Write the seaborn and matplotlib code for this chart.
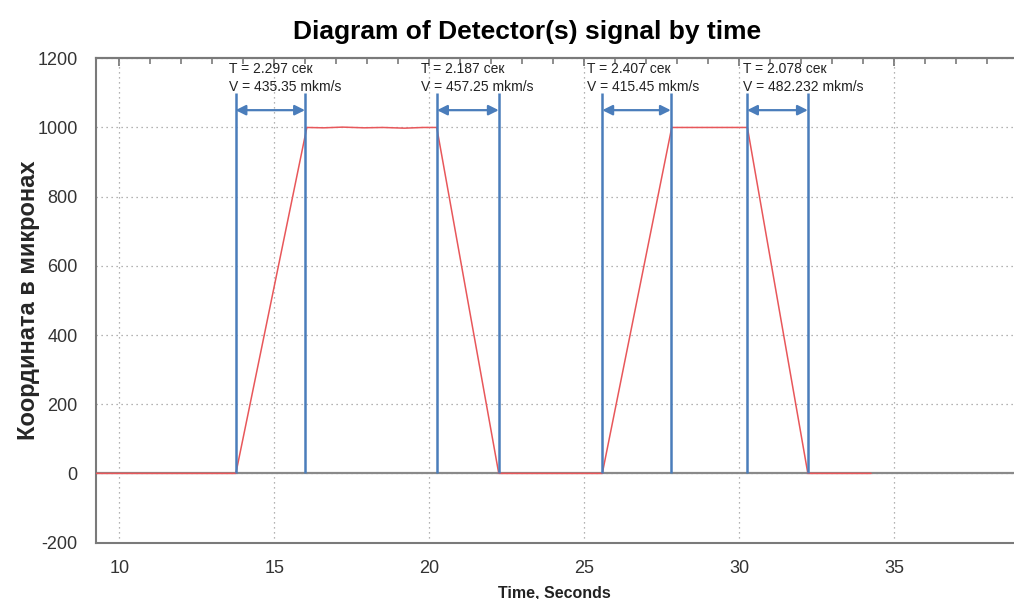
import matplotlib.pyplot as plt
import seaborn as sns
import numpy as np
from matplotlib.ticker import MultipleLocator

plt.switch_backend('Agg')

# Signal trace (time in seconds, coordinate in microns)
signal_time = [9.24, 13.76, 16.05, 16.6, 17.2, 17.9, 18.5, 19.2, 19.8, 20.24,
               22.24, 25.58, 27.82, 28.6, 29.4, 30.26, 32.21, 34.25]
signal_value = [0, 0, 1000, 999, 1001, 999, 1000, 998, 1000, 1000,
                0, 0, 1000, 1000, 1000, 1000, 0, 0]

# Marker lines bounding each transition
marker_start = [13.75, 20.25, 25.58, 30.25]
marker_end = [15.99, 22.24, 27.79, 32.21]
label_x = [13.54, 19.73, 25.08, 30.12]
durations = ['2.297', '2.187', '2.407', '2.078']
speeds = ['435.35', '457.25', '415.45', '482.232']

sns.set_style('white')
plt.rcParams['font.family'] = ['Liberation Sans', 'DejaVu Sans']
plt.rcParams['axes.unicode_minus'] = False

fig = plt.figure(figsize=(10.14, 5.99), dpi=100)
ax = fig.add_axes([0.0944, 0.0942, 0.9056, 0.8085])

spine_col = '#7a7a7a'
ax.axhline(0, color='#8a8a8a', linewidth=1.6, zorder=1)
sns.lineplot(x=signal_time, y=signal_value, color='#e8575a', linewidth=1.1,
             ax=ax, zorder=3, sort=False)

blue = '#4a7dbb'
ax.vlines(marker_start + marker_end, 0, 1100, color=blue, linewidth=1.8, zorder=4)
for x0, x1, lx, d, s in zip(marker_start, marker_end, label_x, durations, speeds):
    ax.annotate('', xy=(x1, 1050), xytext=(x0, 1050),
                arrowprops=dict(arrowstyle='<|-|>', color=blue, lw=1.6,
                                mutation_scale=15, shrinkA=0, shrinkB=0), zorder=5)
    ax.text(lx, 1170, f'T = {d} сек', fontsize=10, va='center', ha='left',
            color='#222222', zorder=6)
    ax.text(lx, 1118, f'V = {s} mkm/s', fontsize=10, va='center', ha='left',
            color='#222222', zorder=6)

ax.set_xlim(9.24, 38.86)
ax.set_ylim(-200, 1200)
ax.xaxis.set_major_locator(MultipleLocator(5))
ax.xaxis.set_minor_locator(MultipleLocator(1))
ax.yaxis.set_major_locator(MultipleLocator(200))
ax.yaxis.set_minor_locator(MultipleLocator(50))
ax.grid(True, which='major', linestyle=(0, (1, 3)), color='#9a9a9a', linewidth=0.9)
ax.set_axisbelow(True)

for side in ['left', 'bottom', 'top']:
    ax.spines[side].set_color(spine_col)
    ax.spines[side].set_linewidth(1.5)
ax.spines['right'].set_visible(False)

ax.tick_params(axis='x', which='major', direction='inout', length=11, width=1.3,
               color=spine_col, labelsize=13, labelcolor='#333333', pad=7)
ax.tick_params(axis='x', which='minor', direction='inout', length=6, width=1.2,
               color=spine_col)
ax.tick_params(axis='y', which='major', direction='out', length=7, width=1.3,
               color=spine_col, labelsize=13, labelcolor='#333333', pad=6)
ax.tick_params(axis='y', which='minor', direction='inout', length=7, width=1.2,
               color=spine_col)

# Ticks along the top edge point inward only
top = ax.secondary_xaxis('top')
top.xaxis.set_major_locator(MultipleLocator(5))
top.xaxis.set_minor_locator(MultipleLocator(1))
top.tick_params(which='major', direction='in', length=6, width=1.3, color=spine_col,
                labeltop=False)
top.tick_params(which='minor', direction='in', length=4, width=1.2, color=spine_col)
top.spines['top'].set_color(spine_col)
top.spines['top'].set_linewidth(1.5)

ax.set_title('Diagram of Detector(s) signal by time', fontsize=19, fontweight='bold',
             color='black', pad=14, x=0.47)
ax.set_xlabel('Time, Seconds', fontsize=11.5, fontweight='bold', color='#222222',
              labelpad=6)
ax.set_ylabel('Координата в микронах', fontsize=17, fontweight='bold')
ax.yaxis.set_label_coords(-0.061, 0.5)

fig.savefig('out.png', dpi=100)
plt.close()
